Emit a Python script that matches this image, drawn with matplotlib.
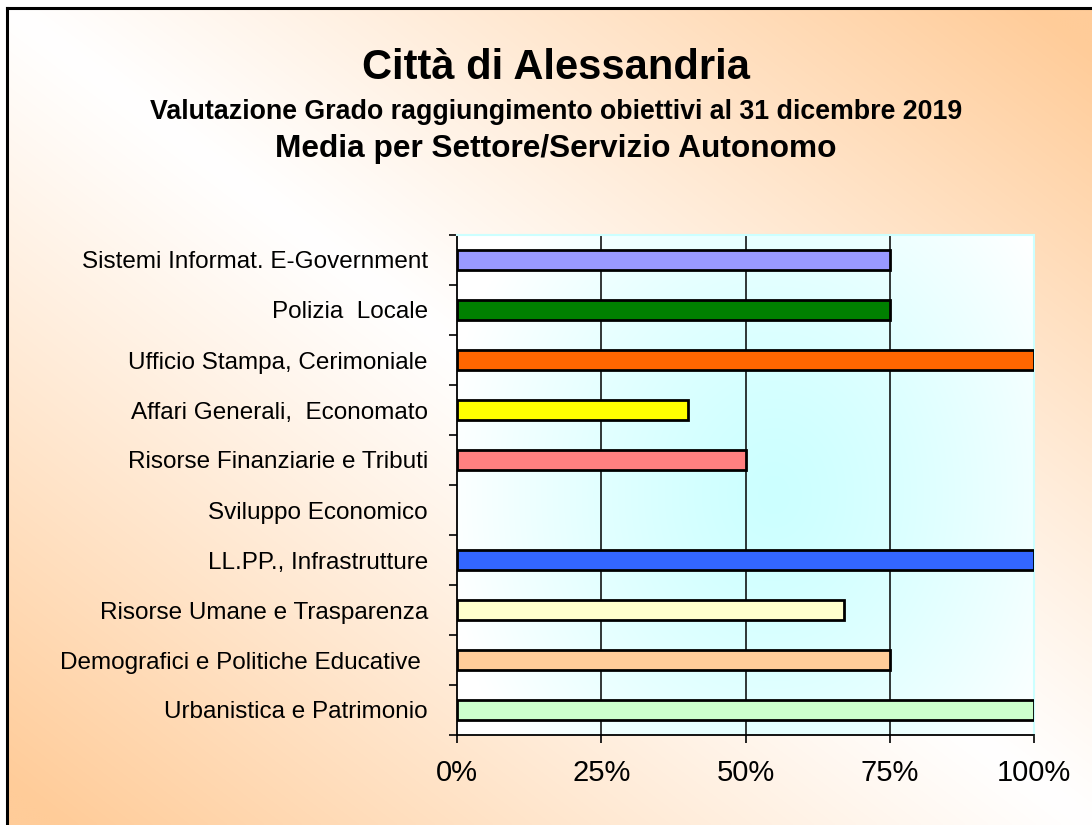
import numpy as np
import matplotlib
matplotlib.use("Agg")
import matplotlib.pyplot as plt
from matplotlib.ticker import PercentFormatter

# data (top to bottom as shown in the chart)
settori = ["Sistemi Informat. E-Government", "Polizia  Locale",
           "Ufficio Stampa, Cerimoniale", "Affari Generali,  Economato",
           "Risorse Finanziarie e Tributi", "Sviluppo Economico",
           "LL.PP., Infrastrutture", "Risorse Umane e Trasparenza",
           "Demografici e Politiche Educative ", "Urbanistica e Patrimonio"]
valori = [75, 75, 100, 40, 50, 0, 100, 67, 75, 100]
colori = ["#9999FF", "#008000", "#FF6600", "#FFFF00", "#FF8080",
          "#FFFFFF", "#3366FF", "#FFFFCC", "#FFCC99", "#CCFFCC"]
x_ticks = [0, 25, 50, 75, 100]

plt.rcParams['font.family'] = ['Liberation Sans', 'DejaVu Sans']

W, H = 1092, 825
fig = plt.figure(figsize=(W / 100, H / 100), dpi=100)

# background: diagonal white -> orange gradient
bg = fig.add_axes([0, 0, 1, 1])
bg.set_xlim(0, W)
bg.set_ylim(H, 0)
bg.axis('off')
xx, yy = np.meshgrid(np.linspace(0, 1, 300), np.linspace(0, 1, 300))
t = np.clip(np.abs(xx - yy) * 1.05, 0, 1) ** 1.1
orange = np.array([255, 204, 153]) / 255
white = np.array([1.0, 1.0, 1.0])
img = white[None, None, :] * (1 - t[..., None]) + orange[None, None, :] * t[..., None]
bg.imshow(img, extent=[7, W, H, 8], aspect='auto', interpolation='bilinear')
bg.plot([7, W], [8, 8], color='black', lw=2.2)
bg.plot([7, 7], [8, H], color='black', lw=2.2)

fig.text(0.509, 0.9176, "Città di Alessandria", ha='center', va='center',
         fontsize=30, fontweight='bold')
fig.text(0.509, 0.864, "Valutazione Grado raggiungimento obiettivi al 31 dicembre 2019",
         ha='center', va='center', fontsize=19.3, fontweight='bold')
fig.text(0.509, 0.819, "Media per Settore/Servizio Autonomo", ha='center',
         va='center', fontsize=22.8, fontweight='bold')

# plot area
ax = fig.add_axes([457 / W, 1 - 735 / H, 577 / W, 500 / H])
n = len(settori)
pos = np.arange(n)[::-1]

# cyan gradient from centre
gx, gy = np.meshgrid(np.linspace(0, 1, 300), np.linspace(0, 1, 300))
d = np.sqrt(((gx - 0.55) / 0.58) ** 2 + ((gy - 0.52) / 0.8) ** 2)
d = np.clip(d, 0, 1) ** 1.3
cyan = np.array([204, 255, 255]) / 255
pimg = cyan[None, None, :] * (1 - d[..., None]) + white[None, None, :] * d[..., None]
ax.imshow(pimg, extent=[0, 100, -0.5, n - 0.5], aspect='auto',
          interpolation='bilinear', zorder=0)

for v in x_ticks[1:-1]:
    ax.axvline(v, color='black', lw=1.1, zorder=1)

lw = [2.0 if v > 0 else 0 for v in valori]
ax.barh(pos, valori, height=0.4, color=colori, edgecolor='black',
        linewidth=lw, zorder=3)

ax.set_xlim(0, 100)
ax.set_ylim(-0.5, n - 0.5)
ax.set_xticks(x_ticks)
ax.xaxis.set_major_formatter(PercentFormatter(decimals=0))
ax.set_yticks(pos)
ax.set_yticklabels(settori)
ax.set_yticks(np.arange(-0.5, n, 1), minor=True)
ax.tick_params(axis='y', which='major', length=0, pad=21, labelsize=17.5)
ax.tick_params(axis='y', which='minor', length=6, width=1.2, direction='out')
ax.tick_params(axis='x', length=6, width=1.2, direction='out', pad=11,
               labelsize=21)

for s in ['top', 'right']:
    ax.spines[s].set_color('#CCFFFF')
    ax.spines[s].set_linewidth(1.5)
for s in ['left', 'bottom']:
    ax.spines[s].set_color('black')
    ax.spines[s].set_linewidth(1.3)

fig.savefig("out.png", dpi=100)
